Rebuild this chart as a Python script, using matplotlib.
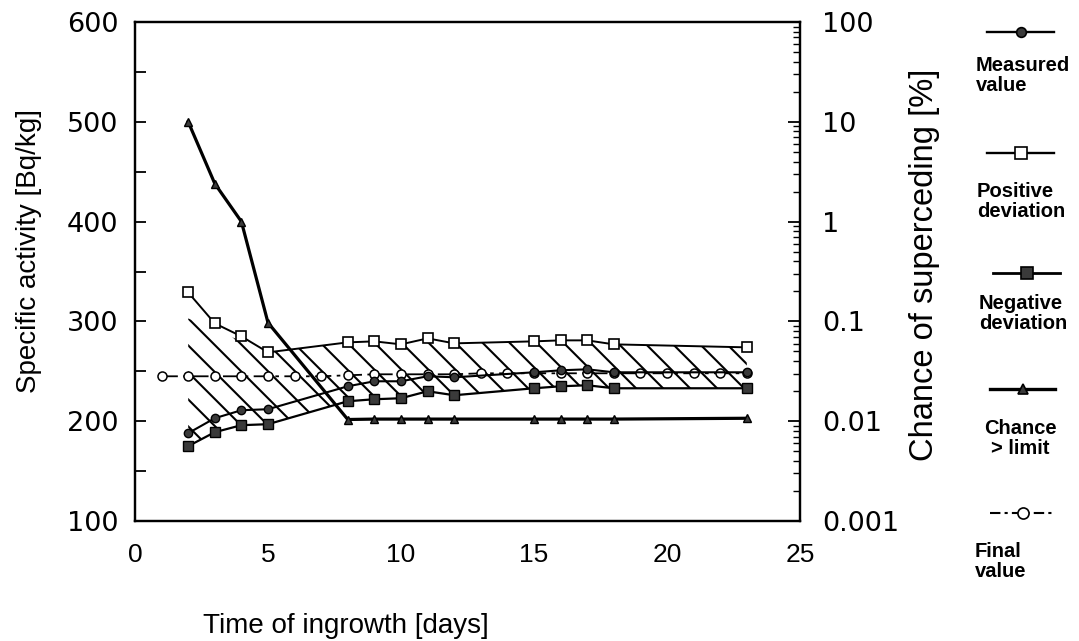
import numpy as np
import matplotlib
matplotlib.use("Agg")
import matplotlib.pyplot as plt
from matplotlib.lines import Line2D
from matplotlib.ticker import MultipleLocator, FixedLocator, FixedFormatter, LogLocator, NullFormatter

# ---------------- data ----------------
days = [2, 3, 4, 5, 8, 9, 10, 11, 12, 15, 16, 17, 18, 23]
measured = [188, 203, 211, 212, 235, 240, 240, 245, 244, 249, 251, 252, 249, 249]
positive_dev = [329, 298, 285, 269, 279, 280, 277, 283, 278, 280, 281, 281, 277, 274]
negative_dev = [175, 189, 196, 197, 220, 222, 223, 230, 226, 233, 235, 236, 233, 233]
chance_pct = [10.0, 2.4, 1.0, 0.097, 0.0104, 0.0105, 0.0105, 0.0105, 0.0105,
              0.0105, 0.0105, 0.0105, 0.0105, 0.0107]
final_days = list(range(1, 24))
final_value = [245, 245, 245, 245, 245, 245, 245, 246, 247, 247, 247, 247, 248, 248,
               248, 248, 248, 248, 248, 248, 248, 248, 248]
# envelope of the hatched band
band_upper = [303, 292, 280, 269, 279, 280, 277, 283, 278, 280, 281, 281, 277, 274]
band_lower = negative_dev

x_ticks = [0, 5, 10, 15, 20, 25]
y_ticks = [100, 200, 300, 400, 500, 600]
y2_ticks = [0.001, 0.01, 0.1, 1, 10, 100]
y2_labels = ["0.001", "0.01", "0.1", "1", "10", "100"]

legend_labels = ["Measured\nvalue", "Positive\ndeviation", "Negative\ndeviation",
                 "Chance\n> limit", "Final\nvalue"]

# ---------------- figure ----------------
W, H = 1079, 641
fig = plt.figure(figsize=(W / 100, H / 100), dpi=100)
L, R, T, B = 135, 800, 22, 521
ax = fig.add_axes([L / W, (H - B) / H, (R - L) / W, (B - T) / H])
ax.set_xlim(0, 25)
ax.set_ylim(100, 600)

ax2 = ax.twinx()
ax2.set_yscale("log")
ax2.set_ylim(0.001, 100)

for a in (ax, ax2):
    for s in a.spines.values():
        s.set_linewidth(1.6)
        s.set_color("black")

tick_font = dict(family="DejaVu Sans", size=19.5)
xtick_font = dict(family="Liberation Sans", size=19)

ax.xaxis.set_major_locator(FixedLocator(x_ticks))
ax.set_xticklabels([str(v) for v in x_ticks], fontdict=xtick_font)
ax.tick_params(axis="x", length=0, pad=16)

ax.yaxis.set_major_locator(FixedLocator(y_ticks))
ax.yaxis.set_minor_locator(MultipleLocator(50))
ax.set_yticklabels([str(v) for v in y_ticks], fontdict=tick_font)
ax.tick_params(axis="y", which="both", direction="in", length=8, width=1.3, pad=12)

ax2.yaxis.set_major_locator(FixedLocator(y2_ticks))
ax2.yaxis.set_major_formatter(FixedFormatter(y2_labels))
ax2.yaxis.set_minor_locator(LogLocator(base=10, subs=np.arange(2, 10)))
ax2.yaxis.set_minor_formatter(NullFormatter())
ax2.tick_params(axis="y", which="major", direction="in", length=9, width=1.3, pad=16,
                labelsize=19.5)
ax2.tick_params(axis="y", which="minor", direction="in", length=5, width=1.0)
for lbl in ax2.get_yticklabels():
    lbl.set_fontfamily("DejaVu Sans")

# ---------------- hatched band ----------------
band = ax.fill_between(days, band_lower, band_upper, facecolor="none",
                       edgecolor="none", zorder=1)
clip_path = band.get_paths()[0]
px_per_day = (R - L) / 25.0
px_per_unit = (B - T) / 500.0
slope = px_per_day / px_per_unit          # 45 degree lines on screen
spacing = 27.0 / px_per_unit              # vertical spacing of hatch lines
hx = np.array([days[0], days[-1]], dtype=float)
for j in range(-8, 40):
    hy = band_upper[0] + j * spacing - slope * (hx - days[0])
    ln, = ax.plot(hx, hy, color="black", lw=1.5, zorder=2)
    ln.set_clip_path(clip_path, transform=ax.transData)

# ---------------- series ----------------
ax.plot(final_days, final_value, color="black", lw=1.3,
        linestyle=(0, (9, 3, 2, 3)), marker="o", ms=6.5, mfc="white",
        mec="black", mew=1.1, zorder=3)
ax.plot(days, positive_dev, color="black", lw=1.4, marker="s", ms=7.5,
        mfc="white", mec="black", mew=1.2, zorder=4)
ax.plot(days, negative_dev, color="black", lw=1.6, marker="s", ms=6.5,
        mfc="#3a3a3a", mec="black", mew=1.0, zorder=4)
ax.plot(days, measured, color="black", lw=1.5, marker="o", ms=6,
        mfc="#3a3a3a", mec="black", mew=1.0, zorder=5)
ax2.plot(days, chance_pct, color="black", lw=2.3, marker="^", ms=6,
         mfc="#3a3a3a", mec="black", mew=1.0, zorder=5)

# ---------------- axis titles ----------------
def fx(x):
    return x / W


def fy(y):
    return 1 - y / H


fig.text(fx(29), fy(251), "Specific activity [Bq/kg]", rotation=90, ha="center",
         va="center", family="Liberation Sans", fontsize=20)
fig.text(fx(924), fy(265), "Chance of superceding [%]", rotation=90, ha="center",
         va="center", family="Liberation Sans", fontsize=23.5)
fig.text(fx(346), fy(633), "Time of ingrowth [days]", ha="center", va="baseline",
         family="Liberation Sans", fontsize=20)

# ---------------- legend ----------------
leg_line_y = [32, 153, 273, 389, 513]
leg_line_x = [(987, 1054), (987, 1054), (993, 1060), (990, 1055), (990, 1055)]
leg_text_y = [56, 182, 294, 419, 542]
leg_text_x = [976, 977, 979, 1020, 975]
leg_styles = [
    dict(ls="-", marker="o", ms=7, mfc="#3a3a3a", lw=1.7),
    dict(ls="-", marker="s", ms=8, mfc="white", lw=1.7),
    dict(ls="-", marker="s", ms=8.5, mfc="#3a3a3a", lw=2.0),
    dict(ls="-", marker="^", ms=7.5, mfc="#3a3a3a", lw=2.4),
    dict(ls=(0, (5, 2, 1.5, 2)), marker="o", ms=8, mfc="white", lw=1.5),
]
for i, lab in enumerate(legend_labels):
    x0, x1 = leg_line_x[i]
    st = leg_styles[i]
    fig.add_artist(Line2D([fx(x0), fx(x1)], [fy(leg_line_y[i])] * 2,
                          transform=fig.transFigure, color="black",
                          ls=st["ls"], lw=st["lw"]))
    fig.add_artist(Line2D([fx((x0 + x1) / 2)], [fy(leg_line_y[i])],
                          transform=fig.transFigure, ls="none", marker=st["marker"],
                          ms=st["ms"], mfc=st["mfc"], mec="black", mew=1.2))
    ha = "center" if i == 3 else "left"
    fig.text(fx(leg_text_x[i]), fy(leg_text_y[i]), lab, ha=ha, va="top",
             multialignment="center" if i == 3 else "left",
             family="Liberation Sans", fontweight="bold", fontsize=14.5,
             linespacing=1.05)

fig.savefig("out.png", dpi=100)
